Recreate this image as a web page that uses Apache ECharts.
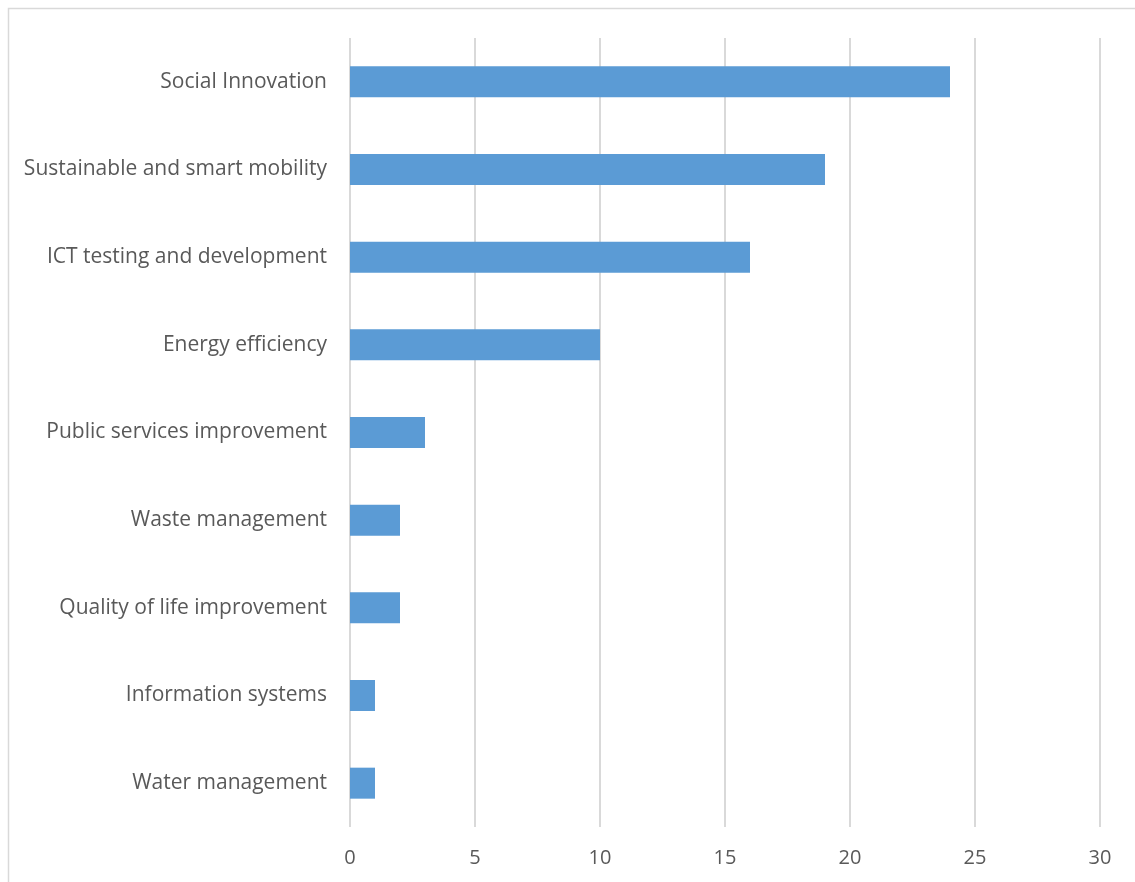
<!DOCTYPE html>
<html>
<head>
<meta charset="utf-8">
<script src="https://cdn.jsdelivr.net/npm/echarts@6/dist/echarts.min.js"></script>
<style>
  html, body { margin: 0; padding: 0; background: #fff; }
  #chart { width: 1135px; height: 882px; }
</style>
</head>
<body>
<div id="chart"></div>
<script>
const categories = [
  'Social Innovation',
  'Sustainable and smart mobility',
  'ICT testing and development',
  'Energy efficiency',
  'Public services improvement',
  'Waste management',
  'Quality of life improvement',
  'Information systems',
  'Water management'
]
const values = [24, 19, 16, 10, 3, 2, 2, 1, 1]
const xTicks = { min: 0, max: 30, interval: 5 }

const chart = echarts.init(document.getElementById('chart'), null, { renderer: 'canvas' })

chart.setOption({
  backgroundColor: '#fff',
  animation: false,
  textStyle: { fontFamily: '"Open Sans", Lato, sans-serif' },
  graphic: [
    {
      type: 'rect',
      shape: { x: 8.5, y: 8.5, width: 1200, height: 1000 },
      style: { fill: 'none', stroke: '#d9d9d9', lineWidth: 1.5 },
      silent: true
    }
  ],
  grid: { left: 350, right: 35, top: 38, bottom: 55, containLabel: false },
  xAxis: {
    type: 'value',
    min: xTicks.min,
    max: xTicks.max,
    interval: xTicks.interval,
    axisLine: { show: false },
    axisTick: { show: false },
    axisLabel: { color: '#595959', fontSize: 20, margin: 21 },
    splitLine: { lineStyle: { color: '#d9d9d9', width: 2 } }
  },
  yAxis: {
    type: 'category',
    inverse: true,
    data: categories,
    axisLine: { show: false },
    axisTick: { show: false },
    axisLabel: { color: '#595959', fontSize: 21, margin: 23 }
  },
  series: [
    {
      type: 'bar',
      data: values,
      barWidth: 31,
      itemStyle: { color: '#5b9bd5' }
    }
  ]
})
</script>
</body>
</html>
